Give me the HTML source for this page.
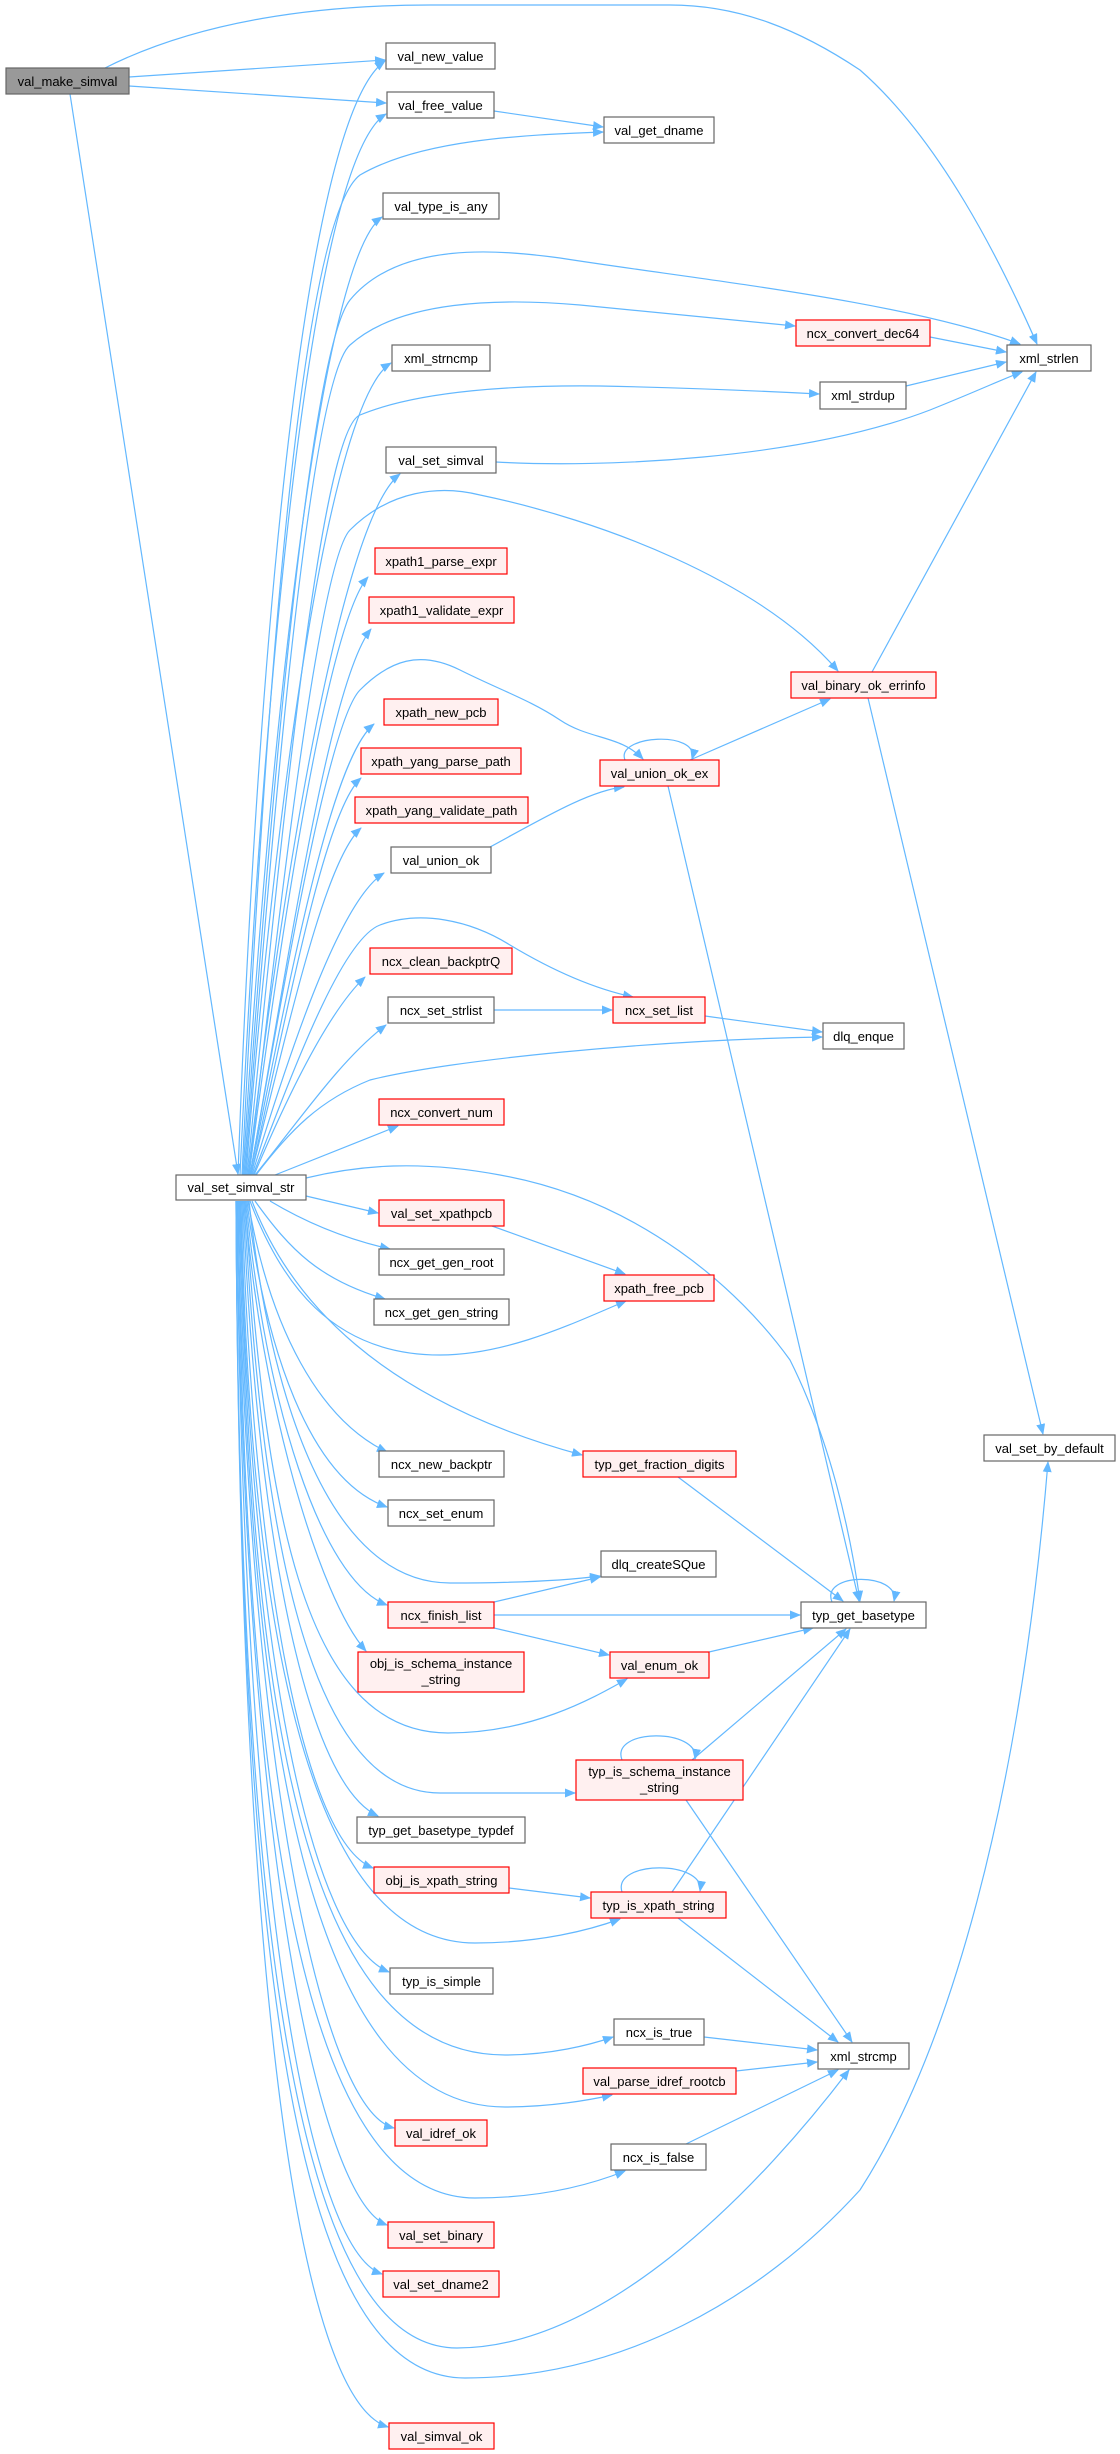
<!DOCTYPE html>
<html><head><meta charset="utf-8"><style>
html,body{margin:0;padding:0;background:#fff}
svg{display:block}
text{font-family:"Liberation Sans",Arial,sans-serif;font-size:13px;fill:#000}
.e{fill:none;stroke:#63b8ff;stroke-width:1.2}
.n rect{fill:#fff;stroke:#666;stroke-width:1.2}
.r rect{fill:#fff0f0;stroke:#ff0000;stroke-width:1.2}
</style></head><body>
<svg width="1120" height="2454" viewBox="0 0 1120 2454" xmlns="http://www.w3.org/2000/svg">
<defs><marker id="a" markerWidth="11" markerHeight="9" refX="10" refY="4.5" orient="auto" markerUnits="userSpaceOnUse"><path d="M0,0 L11,4.5 L0,9 z" fill="#63b8ff"/></marker></defs>
<g class="e" marker-end="url(#a)">
<path d="M105 68 C200 20,320 5,430 5 L670 5 C740 5,800 30,860 70 C940 140,1000 260,1037 344"/>
<path d="M129 77 L385 60"/>
<path d="M129 86 L386 103"/>
<path d="M70 94 L238 1174"/>
<path d="M494 111 L603 127"/>
<path d="M930 337 L1006 352"/>
<path d="M906 386 L1006 362"/>
<path d="M496 462 C600 468,800 460,930 410 C980 390,1005 378,1022 372"/>
<path d="M872 672 L1036 372"/>
<path d="M868 698 L1043 1434"/>
<path d="M690 760 L830 699"/>
<path d="M625 760 C615 735,700 730,692 759"/>
<path d="M668 786 L859 1601"/>
<path d="M490 847 C540 820,590 790,624 787"/>
<path d="M494 1010 L612 1010"/>
<path d="M705 1016 L822 1032"/>
<path d="M492 1226 L625 1274"/>
<path d="M678 1477 L843 1601"/>
<path d="M494 1602 L600 1577"/>
<path d="M494 1615 L800 1615"/>
<path d="M494 1628 L609 1655"/>
<path d="M709 1652 L813 1628"/>
<path d="M692 1760 L846 1629"/>
<path d="M622 1760 C610 1728,700 1728,695 1759"/>
<path d="M832 1602 C820 1572,900 1572,894 1601"/>
<path d="M509 1888 L590 1898"/>
<path d="M622 1892 C612 1860,705 1860,700 1891"/>
<path d="M672 1892 L850 1629"/>
<path d="M678 1918 L838 2042"/>
<path d="M686 1800 L852 2042"/>
<path d="M704 2037 L817 2050"/>
<path d="M736 2071 L817 2062"/>
<path d="M686 2144 L838 2070"/>
<!-- from val_set_simval_str upward -->
<path d="M238 1175 C255 700,300 120,385 61"/>
<path d="M240 1175 C262 700,310 160,386 114"/>
<path d="M242 1175 C265 700,300 220,360 175 C420 140,520 135,603 132"/>
<path d="M243 1175 C268 750,320 260,382 217"/>
<path d="M244 1175 C270 800,310 350,350 300 C400 240,500 250,560 258 C700 280,900 300,1020 344"/>
<path d="M245 1175 C272 820,310 380,350 345 C400 300,500 298,580 305 C680 315,760 322,795 326"/>
<path d="M246 1175 C275 800,330 400,391 363"/>
<path d="M247 1175 C280 850,320 430,360 415 C420 390,520 385,600 386 C700 388,780 392,819 394"/>
<path d="M248 1175 C280 900,340 520,400 474"/>
<path d="M249 1175 C280 900,320 560,350 530 C390 490,440 485,480 495 C600 520,760 580,838 671"/>
<path d="M249 1175 C285 900,330 620,368 577"/>
<path d="M250 1175 C290 950,330 680,371 629"/>
<path d="M250 1175 C290 950,330 720,360 690 C390 660,420 650,460 670 C500 690,530 700,560 720 C590 740,620 735,643 759"/>
<path d="M250 1175 C290 980,330 760,374 724"/>
<path d="M251 1175 C290 1000,325 810,361 778"/>
<path d="M251 1175 C290 1020,325 860,361 828"/>
<path d="M252 1175 C290 1050,340 900,384 873"/>
<path d="M253 1175 C290 1080,340 940,380 925 C420 910,470 920,510 945 C560 975,600 990,633 997"/>
<path d="M254 1175 C290 1090,330 1010,365 977"/>
<path d="M255 1175 C300 1120,340 1060,386 1025"/>
<path d="M256 1175 C290 1130,320 1100,370 1080 C450 1060,650 1040,822 1037"/>
<path d="M275 1175 L398 1126"/>
<path d="M306 1178 C360 1165,420 1160,500 1175 C640 1200,740 1290,790 1360 C830 1440,850 1530,860 1601"/>
<!-- downward -->
<path d="M306 1196 L378 1213"/>
<path d="M270 1201 C310 1225,350 1240,390 1249"/>
<path d="M255 1201 C290 1250,320 1280,385 1299"/>
<path d="M250 1201 C280 1280,330 1355,440 1355 C510 1355,580 1320,626 1301"/>
<path d="M248 1201 C270 1330,320 1420,387 1452"/>
<path d="M252 1201 C290 1300,380 1400,582 1455"/>
<path d="M247 1201 C265 1350,310 1480,387 1507"/>
<path d="M249 1201 C270 1400,330 1583,450 1583 C520 1583,570 1580,600 1576"/>
<path d="M246 1201 C265 1400,320 1580,387 1605"/>
<path d="M245 1201 C260 1400,320 1600,366 1651"/>
<path d="M245 1201 C265 1500,300 1733,448 1733 C530 1733,590 1700,627 1679"/>
<path d="M244 1201 C260 1500,300 1793,440 1793 C500 1793,545 1793,575 1793"/>
<path d="M243 1201 C255 1500,300 1780,378 1816"/>
<path d="M242 1201 C252 1550,300 1840,373 1868"/>
<path d="M241 1201 C250 1600,300 1943,475 1943 C540 1943,590 1930,620 1919"/>
<path d="M240 1201 C250 1650,310 1940,389 1972"/>
<path d="M240 1201 C250 1700,300 2055,505 2055 C550 2055,590 2045,613 2037"/>
<path d="M239 1201 C248 1700,300 2107,505 2107 C550 2107,590 2100,612 2095"/>
<path d="M238 1201 C246 1750,320 2110,394 2128"/>
<path d="M238 1201 C245 1800,300 2198,475 2198 C540 2198,590 2185,625 2171"/>
<path d="M237 1201 C243 1850,320 2200,387 2225"/>
<path d="M237 1201 C242 1900,310 2250,382 2274"/>
<path d="M236 1201 C240 1950,300 2348,457 2348 C600 2348,750 2200,849 2070"/>
<path d="M236 1201 C240 2000,300 2378,465 2378 C620 2378,760 2300,860 2190 C950 2050,1020 1800,1048 1462"/>
<path d="M236 1201 C240 2000,300 2400,388 2427"/>
</g>
<g class="n"><rect x="6" y="68" width="123" height="26" style="fill:#999"/><text x="67.5" y="86" text-anchor="middle">val_make_simval</text></g>
<g text-anchor="middle">
<g class="n"><rect x="386" y="43" width="109" height="26"/><text x="440.5" y="61">val_new_value</text></g>
<g class="n"><rect x="387" y="92" width="107" height="26"/><text x="440.5" y="110">val_free_value</text></g>
<g class="n"><rect x="604" y="117" width="110" height="26"/><text x="659" y="135">val_get_dname</text></g>
<g class="n"><rect x="383" y="193" width="116" height="26"/><text x="441" y="211">val_type_is_any</text></g>
<g class="r"><rect x="796" y="320" width="134" height="26"/><text x="863" y="338">ncx_convert_dec64</text></g>
<g class="n"><rect x="1007" y="345" width="84" height="26"/><text x="1049" y="363">xml_strlen</text></g>
<g class="n"><rect x="392" y="345" width="98" height="26"/><text x="441" y="363">xml_strncmp</text></g>
<g class="n"><rect x="820" y="382" width="86" height="27"/><text x="863" y="400">xml_strdup</text></g>
<g class="n"><rect x="386" y="447" width="110" height="26"/><text x="441" y="465">val_set_simval</text></g>
<g class="r"><rect x="375" y="548" width="132" height="26"/><text x="441" y="566">xpath1_parse_expr</text></g>
<g class="r"><rect x="369" y="597" width="145" height="26"/><text x="441.5" y="615">xpath1_validate_expr</text></g>
<g class="r"><rect x="791" y="672" width="145" height="26"/><text x="863.5" y="690">val_binary_ok_errinfo</text></g>
<g class="r"><rect x="384" y="699" width="114" height="26"/><text x="441" y="717">xpath_new_pcb</text></g>
<g class="r"><rect x="361" y="748" width="160" height="26"/><text x="441" y="766">xpath_yang_parse_path</text></g>
<g class="r"><rect x="600" y="760" width="119" height="26"/><text x="659.5" y="778">val_union_ok_ex</text></g>
<g class="r"><rect x="355" y="797" width="173" height="26"/><text x="441.5" y="815">xpath_yang_validate_path</text></g>
<g class="n"><rect x="391" y="847" width="100" height="26"/><text x="441" y="865">val_union_ok</text></g>
<g class="r"><rect x="370" y="948" width="142" height="26"/><text x="441" y="966">ncx_clean_backptrQ</text></g>
<g class="n"><rect x="388" y="997" width="106" height="26"/><text x="441" y="1015">ncx_set_strlist</text></g>
<g class="r"><rect x="613" y="997" width="92" height="26"/><text x="659" y="1015">ncx_set_list</text></g>
<g class="n"><rect x="823" y="1023" width="81" height="26"/><text x="863.5" y="1041">dlq_enque</text></g>
<g class="r"><rect x="379" y="1099" width="125" height="26"/><text x="441.5" y="1117">ncx_convert_num</text></g>
<g class="n"><rect x="176" y="1175" width="130" height="25"/><text x="241" y="1192">val_set_simval_str</text></g>
<g class="r"><rect x="379" y="1200" width="125" height="26"/><text x="441.5" y="1218">val_set_xpathpcb</text></g>
<g class="n"><rect x="379" y="1249" width="125" height="26"/><text x="441.5" y="1267">ncx_get_gen_root</text></g>
<g class="r"><rect x="604" y="1275" width="110" height="26"/><text x="659" y="1293">xpath_free_pcb</text></g>
<g class="n"><rect x="374" y="1299" width="135" height="26"/><text x="441.5" y="1317">ncx_get_gen_string</text></g>
<g class="n"><rect x="984" y="1435" width="131" height="26"/><text x="1049.5" y="1453">val_set_by_default</text></g>
<g class="n"><rect x="379" y="1451" width="125" height="26"/><text x="441.5" y="1469">ncx_new_backptr</text></g>
<g class="r"><rect x="583" y="1451" width="153" height="26"/><text x="659.5" y="1469">typ_get_fraction_digits</text></g>
<g class="n"><rect x="388" y="1500" width="106" height="26"/><text x="441" y="1518">ncx_set_enum</text></g>
<g class="n"><rect x="601" y="1551" width="115" height="26"/><text x="658.5" y="1569">dlq_createSQue</text></g>
<g class="r"><rect x="388" y="1602" width="106" height="26"/><text x="441" y="1620">ncx_finish_list</text></g>
<g class="n"><rect x="801" y="1602" width="125" height="26"/><text x="863.5" y="1620">typ_get_basetype</text></g>
<g class="r"><rect x="358" y="1652" width="166" height="40"/><text x="441" y="1668">obj_is_schema_instance</text><text x="441" y="1684">_string</text></g>
<g class="r"><rect x="610" y="1652" width="99" height="26"/><text x="659.5" y="1670">val_enum_ok</text></g>
<g class="r"><rect x="576" y="1760" width="167" height="40"/><text x="659.5" y="1776">typ_is_schema_instance</text><text x="659.5" y="1792">_string</text></g>
<g class="n"><rect x="357" y="1817" width="168" height="26"/><text x="441" y="1835">typ_get_basetype_typdef</text></g>
<g class="r"><rect x="374" y="1867" width="135" height="26"/><text x="441.5" y="1885">obj_is_xpath_string</text></g>
<g class="r"><rect x="591" y="1892" width="135" height="26"/><text x="658.5" y="1910">typ_is_xpath_string</text></g>
<g class="n"><rect x="390" y="1968" width="103" height="26"/><text x="441.5" y="1986">typ_is_simple</text></g>
<g class="n"><rect x="614" y="2019" width="90" height="26"/><text x="659" y="2037">ncx_is_true</text></g>
<g class="n"><rect x="818" y="2043" width="91" height="26"/><text x="863.5" y="2061">xml_strcmp</text></g>
<g class="r"><rect x="583" y="2068" width="153" height="26"/><text x="659.5" y="2086">val_parse_idref_rootcb</text></g>
<g class="r"><rect x="395" y="2120" width="92" height="26"/><text x="441" y="2138">val_idref_ok</text></g>
<g class="n"><rect x="611" y="2144" width="95" height="26"/><text x="658.5" y="2162">ncx_is_false</text></g>
<g class="r"><rect x="388" y="2222" width="106" height="26"/><text x="441" y="2240">val_set_binary</text></g>
<g class="r"><rect x="383" y="2271" width="116" height="26"/><text x="441" y="2289">val_set_dname2</text></g>
<g class="r"><rect x="389" y="2423" width="105" height="26"/><text x="441.5" y="2441">val_simval_ok</text></g>
</g>
</svg>
</body></html>
